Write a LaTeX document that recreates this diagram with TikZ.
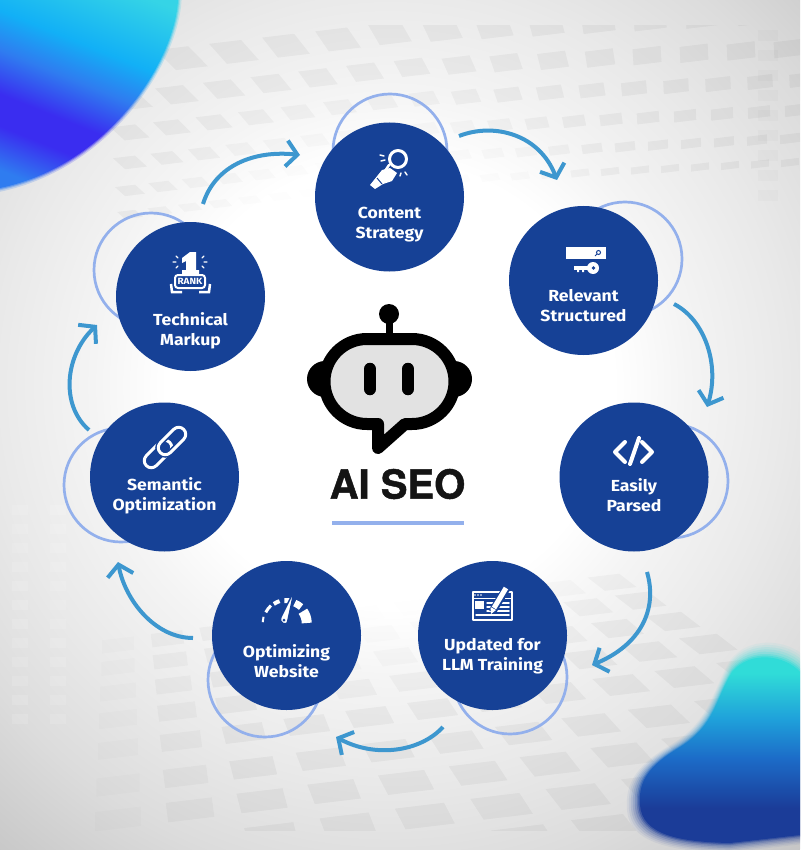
\documentclass[tikz,border=0pt]{standalone}
\usepackage{fontspec}
\setmainfont{Fira Sans}[BoldFeatures={FakeStretch=1.1}]
\newfontfamily\titlefont{TeX Gyre Heros}[BoldFeatures={FakeBold=1.2}]
\usetikzlibrary{arrows.meta}
\definecolor{stepblue}{HTML}{164196}
\definecolor{ringblue}{HTML}{93B0EC}
\definecolor{arrowblue}{HTML}{3D97CF}
\definecolor{botgray}{HTML}{E2E2E2}
\definecolor{titleblack}{HTML}{141414}
\definecolor{ga}{HTML}{F4F4F4}
\definecolor{gb}{HTML}{E9E9E9}
\definecolor{gc}{HTML}{DCDCDC}
\definecolor{gd}{HTML}{C6C6C6}
\definecolor{ca}{HTML}{3A2DF0}
\definecolor{cb}{HTML}{2F7CF0}
\definecolor{cc}{HTML}{12B0F6}
\definecolor{cd}{HTML}{35D4E6}
\definecolor{ce}{HTML}{1B3C98}
\definecolor{cf}{HTML}{1C6CC8}
\definecolor{cg}{HTML}{1FA0DA}
\definecolor{ch}{HTML}{30DCD8}
\pgfdeclareradialshading{bgglow}{\pgfpoint{0bp}{0bp}}{color(0bp)=(white); color(9bp)=(white); color(12bp)=(ga); color(16bp)=(gb); color(20bp)=(gc); color(25bp)=(gd); color(50bp)=(gd)}
\pgfdeclareverticalshading{topblob}{100bp}{color(0bp)=(cb); color(22bp)=(cb); color(33bp)=(ca); color(41bp)=(ca); color(52bp)=(cb); color(62bp)=(cc); color(80bp)=(cd); color(100bp)=(cd)}
\pgfdeclareverticalshading{lowblob}{100bp}{color(0bp)=(ce); color(34bp)=(ce); color(47bp)=(cf); color(57bp)=(cg); color(69bp)=(ch); color(100bp)=(ch)}
\tikzset{
    stepcircle/.style={circle, fill=stepblue, minimum size=149pt, inner sep=0pt},
    ringcircle/.style={circle, draw=ringblue, line width=2.7pt, minimum size=114pt, inner sep=0pt},
    steplabel/.style={text=white, align=center, font=\bfseries\fontsize{16}{20}\selectfont},
    curvearrow/.style={draw=arrowblue, line width=4pt, ->},
    chainlink/.style={draw=white, line width=3pt, rounded corners=7pt, rotate=45, minimum width=33pt, minimum height=14pt, inner sep=0pt},
    chainhalo/.style={chainlink, draw=stepblue, line width=6pt},
    icon/.style={draw=white, line width=3pt, line cap=round, line join=round},
    iconfill/.style={fill=white}
}
\begin{document}
\begin{tikzpicture}[x=1pt, y=-1pt, >={Straight Barb[length=11pt, width=26pt, line width=4pt]}]

    \useasboundingbox (0,0) rectangle (800,850);
    \clip (0,0) rectangle (800,850);
    \shade[shading=bgglow] (390,385) circle (620);

    \begin{scope}
        \clip (0,26) rectangle (800,300);
        \foreach \rowy/\gap/\w/\h in {32/52/32/20, 68/47/28/16, 100/42/25/13, 130/37/22/11, 158/33/20/9, 182/30/18/7} {
            \foreach \k in {0,...,22} {
                \pgfmathsetmacro\cx{130+\k*\gap}
                \pgfmathsetmacro\cy{\rowy+max(400-\cx,0)*0.12-max(\cx-400,0)*0.05}
                \pgfmathsetmacro\lean{max(0.05,0.9-(\cx-230)*0.002)}
                \pgfmathsetmacro\op{0.04*max(0,min(1,(veclen(\cx-390,\cy-385)-200)/110))}
                \fill[black, fill opacity=\op] (\cx-\w/2-\lean*\h/2,\cy-\h/2+\w*0.06) -- (\cx+\w/2-\lean*\h/2,\cy-\h/2-\w*0.06) -- (\cx+\w/2+\lean*\h/2,\cy+\h/2-\w*0.06) -- (\cx-\w/2+\lean*\h/2,\cy+\h/2+\w*0.06) -- cycle;
            }
        }
    \end{scope}

    \begin{scope}
        \clip (0,500) rectangle (800,830);
        \foreach \rowy in {890,855,819,785,749,719,692,667,645} {
            \foreach \k in {0,...,10} {
                \pgfmathsetmacro\s{0.13*(\rowy-265)}
                \pgfmathsetmacro\w{0.64*\s}
                \pgfmathsetmacro\h{0.27*\s}
                \pgfmathsetmacro\lean{\k*0.13}
                \pgfmathsetmacro\cx{118+\k*\s}
                \pgfmathsetmacro\cy{\rowy-0.127*(\cx-118)}
                \pgfmathsetmacro\op{0.04*min(1,(\k+1)/3)*max(0,min(1,(veclen(\cx-390,\cy-385)-215)/110))}
                \fill[black, fill opacity=\op] (\cx-\w/2-\lean*\h/2,\cy-\h/2+\w*0.06) -- (\cx+\w/2-\lean*\h/2,\cy-\h/2-\w*0.06) -- (\cx+\w/2+\lean*\h/2,\cy+\h/2-\w*0.06) -- (\cx-\w/2+\lean*\h/2,\cy+\h/2+\w*0.06) -- cycle;
            }
        }
    \end{scope}

    \foreach \x in {12,50} {
        \foreach \y in {505,524,...,720} {
            \fill[white, fill opacity=0.12] (\x,\y) rectangle (\x+16,\y+10);
        }
    }
    \foreach \y in {30,50,...,190} {
        \fill[black, fill opacity=0.015] (758,\y) rectangle (778,\y+11);
    }

    \foreach \f/\o in {1.02/0.2, 1.012/0.3, 1.006/0.5, 1/1} {
        \shade[shading=topblob, shading angle=-22, opacity=\o, scale around={\f:(0,0)}] (178,0) .. controls (175,60) and (110,165) .. (0,188) -- (0,0) -- cycle;
    }
    \foreach \f/\o in {1.13/0.06, 1.11/0.08, 1.09/0.11, 1.07/0.14, 1.05/0.2, 1.03/0.3, 1.015/0.5, 1/1} {
        \shade[shading=lowblob, opacity=\o, scale around={\f:(740,770)}] (800,672) .. controls (785,655) and (750,650) .. (732,672) .. controls (715,700) and (715,725) .. (680,747) .. controls (650,765) and (638,780) .. (640,805) .. controls (642,835) and (680,842) .. (730,843) -- (800,835) -- cycle;
    }

    \draw(390,151) node[ringcircle] (contentring) {};
    \draw(625,259) node[ringcircle] (relevantring) {};
    \draw(671,481) node[ringcircle] (parsedring) {};
    \draw(510,677) node[ringcircle] (updatedring) {};
    \draw(265,680) node[ringcircle] (websitering) {};
    \draw(121,485) node[ringcircle] (semanticring) {};
    \draw(151,270) node[ringcircle] (technicalring) {};

    \draw(389.5,197) node[stepcircle] (content) {};
    \draw(583.5,280.5) node[stepcircle] (relevant) {};
    \draw(634,477) node[stepcircle] (parsed) {};
    \draw(492.5,635.5) node[stepcircle] (updated) {};
    \draw(286.5,635.5) node[stepcircle] (website) {};
    \draw(164.5,477) node[stepcircle] (semantic) {};
    \draw(190.5,296.5) node[stepcircle] (technical) {};

    \draw(389.5,225) node[steplabel] (contentlabel) {Content\\Strategy};
    \draw(583.5,306) node[steplabel] (relevantlabel) {Relevant\\Structured};
    \draw(634,495) node[steplabel] (parsedlabel) {Easily\\Parsed};
    \draw(492.5,656) node[steplabel] (updatedlabel) {Updated for\\LLM Training};
    \draw(286.5,661) node[steplabel] (websitelabel) {Optimizing\\Website};
    \draw(164.5,495.5) node[steplabel] (semanticlabel) {Semantic\\Optimization};
    \draw(190.5,330.5) node[steplabel] (technicallabel) {Technical\\Markup};

    \coordinate (a1) at (459,136);
    \coordinate (b1) at (557,180);
    \coordinate (a2) at (674,304);
    \coordinate (b2) at (707,407);
    \coordinate (a3) at (647,572);
    \coordinate (b3) at (592,665);
    \coordinate (a4) at (443,727);
    \coordinate (b4) at (336,737);
    \coordinate (a5) at (193,638);
    \coordinate (b5) at (118,562);
    \coordinate (a6) at (89,430);
    \coordinate (b6) at (97,325);
    \coordinate (a7) at (203,204);
    \coordinate (b7) at (300,155);
    \draw[curvearrow] (a1) .. controls (495,122) and (540,135) .. (b1);
    \draw[curvearrow] (a2) .. controls (705,320) and (720,365) .. (b2);
    \draw[curvearrow] (a3) .. controls (658,610) and (640,645) .. (b3);
    \draw[curvearrow] (a4) .. controls (420,752) and (375,758) .. (b4);
    \draw[curvearrow] (a5) .. controls (155,638) and (125,600) .. (b5);
    \draw[curvearrow] (a6) .. controls (60,405) and (65,355) .. (b6);
    \draw[curvearrow] (a7) .. controls (215,165) and (255,150) .. (b7);

    \draw[icon] (398,159) circle (8.5);
    \fill[iconfill] (382,170) -- (370,185) -- (375,189) -- (383,184) -- (392,181) -- (397,173) -- (390,168) -- cycle;
    \draw[icon, line width=2.5pt] (383,174) -- (389,165);
    \draw[stepblue, line width=1pt] (377,178) -- (382,184);
    \draw[icon, line width=1.5pt] (380,155) -- (384,156);
    \draw[icon, line width=1.5pt] (381,161) -- (385,160);
    \draw[icon, line width=1.5pt] (400,176) -- (401,173);
    \draw[icon, line width=1.5pt] (407,175) -- (405,172);

    \fill[iconfill] (566,247) rectangle (606,259);
    \draw[stepblue, line width=1pt] (598.5,252.5) circle (2) (597,254) -- (595,256);
    \fill[iconfill] (593,268) circle (6);
    \fill[iconfill] (574,266) rectangle (590,270);
    \fill[iconfill] (577,269) rectangle (579,272) (582,269) rectangle (584,272);
    \fill[stepblue] (593.5,268) circle (1.8);

    \draw[icon, line width=4pt] (625,442) -- (615,452) -- (625,462);
    \draw[icon, line width=4pt] (639,438) -- (630,464);
    \draw[icon, line width=4pt] (642,442) -- (652,452) -- (642,462);

    \draw[icon, line width=1.5pt] (473,592) rectangle (512,620);
    \draw[icon, line width=1pt] (473,598) -- (512,598);
    \fill[iconfill] (475,601) rectangle (484,609);
    \draw[icon, line width=1.5pt] (487,603) -- (509,603) (487,607) -- (509,607) (487,611) -- (509,611) (476,615) -- (509,615);
    \fill[iconfill] (475,595) circle (0.8) (478,595) circle (0.8) (481,595) circle (0.8);
    \draw[stepblue, line width=8pt] (492,612) -- (506,589);
    \draw[white, line width=5pt] (494,608) -- (506,588);
    \fill[iconfill] (491,614) -- (490.5,607) -- (496,610) -- cycle;

    \foreach \a/\b/\wd in {178/165/2, 153/132/3, 124/108/4, 96/78/5, 68/48/7, 36/0/10} {
        \pgfmathsetmacro\rr{25-\wd/2}
        \draw[white, line width=\wd pt] (286.7,623) ++(-\a:\rr) arc[start angle=-\a, end angle=-\b, radius=\rr];
    }
    \draw[stepblue, line width=1.5pt, fill=white] (294.5,590) -- (281,617) .. controls (278,624) and (288,627) .. (288,620) -- cycle;
    \fill[stepblue] (284,620) circle (1.5);

    \draw(158,454) node[chainlink] (linkb) {};
    \draw(172,441) node[chainhalo] (linkhalo) {};
    \draw(172,441) node[chainlink] (linka) {};

    \fill[iconfill] (190,252) -- (196,252) -- (196,270) -- (199,270) -- (199,274) -- (182,274) -- (182,270) -- (186,270) -- (186,261) -- (182,263) -- (182,258) -- cycle;
    \draw[white, line width=2pt, fill=stepblue, rounded corners=3pt] (175,275) rectangle (205,288);
    \draw(190,281.5) node[text=white, font=\bfseries\fontsize{9}{9}\selectfont, inner sep=0pt] (ranktext) {RANK};
    \draw[white, line width=2.5pt] (171,284) -- (172,292) -- (182,292);
    \draw[white, line width=2.5pt] (210,284) -- (209,292) -- (199,292);
    \draw[icon, line width=1.2pt] (176,256) -- (178,258) (173,262) -- (176,262) (176,268) -- (178,266) (204,256) -- (202,258) (207,262) -- (204,262) (204,268) -- (202,266);

    \fill[black] (389,314) circle (10);
    \fill[black] (385.5,320) rectangle (392.5,336);
    \fill[black] (325,379) circle (18);
    \fill[black] (454,379) circle (18);
    \draw[black, fill=botgray, line width=12pt, line join=round] (367,339) -- (412,339) arc[start angle=-90, end angle=90, radius=42.5] -- (405,424) -- (378,448) -- (378,424) -- (367,424) arc[start angle=90, end angle=270, radius=42.5] -- cycle;
    \draw[black, line width=12.5pt, line cap=round] (370,369) -- (370,389);
    \draw[black, line width=12.5pt, line cap=round] (408,369) -- (408,389);

    \draw(397.5,484) node[text=titleblack, font=\titlefont\bfseries\fontsize{40}{40}\selectfont, inner sep=0pt] (title) {AI SEO};
    \draw[ringblue, line width=4pt] (332,523) -- (464,523);

\end{tikzpicture}
\end{document}
